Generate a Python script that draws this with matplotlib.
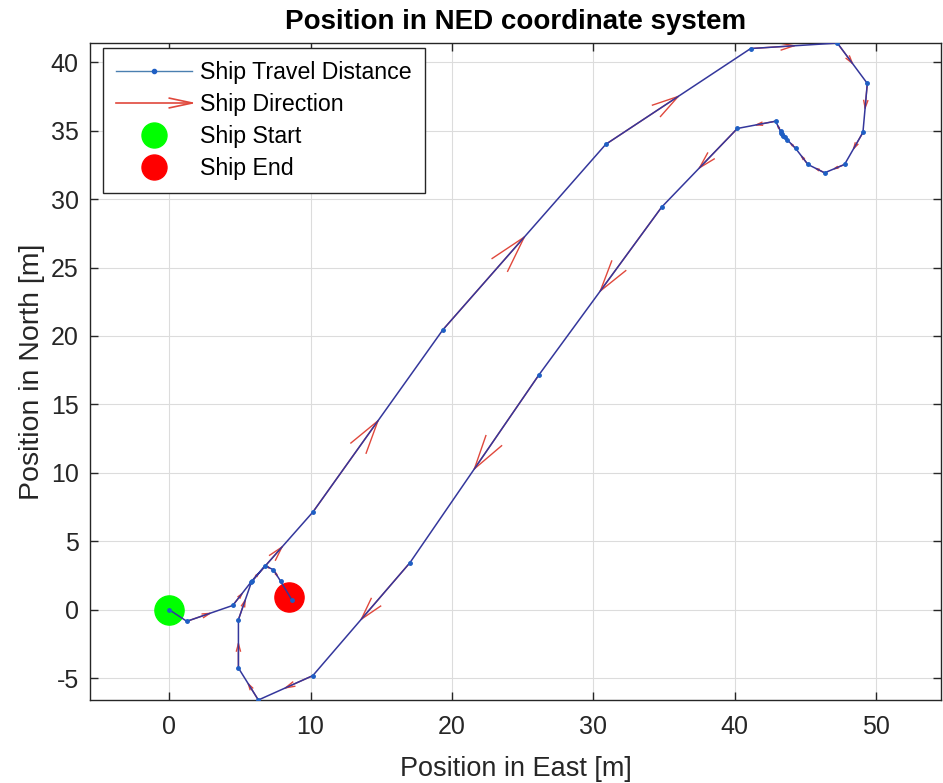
import numpy as np
import matplotlib
matplotlib.use('Agg')
import matplotlib.pyplot as plt
from matplotlib.lines import Line2D
from matplotlib.legend_handler import HandlerBase

plt.rcParams['font.family'] = ['Liberation Sans', 'DejaVu Sans']
plt.rcParams['axes.unicode_minus'] = False

# ship track in NED frame (east, north) [m]
east = [0.0, 1.25, 4.50, 5.77, 10.18, 19.36, 30.88, 41.13, 47.26, 49.38,
        49.07, 47.77, 46.36, 45.18, 44.31, 43.70, 43.55, 43.45, 43.38, 43.30,
        43.25, 42.89, 40.19, 34.84, 26.15, 17.03, 10.16, 6.31, 4.90, 4.90,
        5.84, 6.78, 7.37, 7.89, 8.67]
north = [0.0, -0.85, 0.31, 1.99, 7.15, 20.45, 34.0, 41.0, 41.4, 38.45,
         34.87, 32.53, 31.92, 32.53, 33.70, 34.35, 34.50, 34.62, 34.72, 34.82,
         34.95, 35.69, 35.16, 29.42, 17.15, 3.43, -4.82, -6.6, -4.26, -0.73,
         2.07, 3.21, 2.92, 2.07, 0.73]
start_pos = (0.0, 0.0)
end_pos = (8.5, 0.9)

arrow_scale = 0.5
head_alpha = 0.30
head_beta = 0.27

track_col = '#34379c'
dot_col = '#1f5fc4'
arrow_col = '#e0483c'
text_col = '#262626'


class ArrowHandler(HandlerBase):
    def create_artists(self, legend, orig_handle, xdescent, ydescent,
                       width, height, fontsize, trans):
        y = height / 2 - ydescent
        x0, x1 = -xdescent, -xdescent + width
        hl, hw = width * 0.3, height * 0.3
        shaft = Line2D([x0, x1], [y, y], color=arrow_col, lw=1.2)
        head = Line2D([x1 - hl, x1, x1 - hl], [y + hw, y, y - hw],
                      color=arrow_col, lw=1.2)
        shaft.set_transform(trans)
        head.set_transform(trans)
        return [shaft, head]


fig = plt.figure(figsize=(9.43, 7.83), dpi=100)
ax = fig.add_axes([0.0954, 0.106, 0.9026, 0.839])

e = np.array(east)
n = np.array(north)
u = np.diff(e) * arrow_scale
v = np.diff(n) * arrow_scale
x0, y0 = e[:-1], n[:-1]
tx, ty = x0 + u, y0 + v

# quiver-like arrows (shaft + open head), drawn under the track
nan = np.full_like(u, np.nan)
shaft_x = np.column_stack([x0, tx, nan]).ravel()
shaft_y = np.column_stack([y0, ty, nan]).ravel()
head_x = np.column_stack([tx - head_alpha * (u + head_beta * v), tx,
                          tx - head_alpha * (u - head_beta * v), nan]).ravel()
head_y = np.column_stack([ty - head_alpha * (v - head_beta * u), ty,
                          ty - head_alpha * (v + head_beta * u), nan]).ravel()
ax.plot(shaft_x, shaft_y, color=arrow_col, lw=1.0, zorder=2)
ax.plot(head_x, head_y, color=arrow_col, lw=1.0, zorder=2)

ax.plot(start_pos[0], start_pos[1], 'o', color='#00ff00', ms=21, zorder=2.5)
ax.plot(end_pos[0], end_pos[1], 'o', color='#ff0000', ms=21, zorder=2.5)
ax.plot(east, north, '-', color=track_col, lw=1.1, zorder=3)
ax.plot(east, north, '.', color=dot_col, ms=5, zorder=3.5)

ax.set_xlim(-5.6, 54.6)
ax.set_ylim(-6.6, 41.4)
ax.set_xticks(range(0, 51, 10))
ax.set_yticks(range(-5, 41, 5))
ax.grid(True, color='#dcdcdc', lw=0.8)
ax.set_axisbelow(True)
ax.tick_params(direction='in', top=True, right=True, labelsize=18,
               length=6, width=1, colors=text_col)
ax.tick_params(axis='y', pad=8)
ax.tick_params(axis='x', pad=11)
for s in ax.spines.values():
    s.set_color(text_col)
    s.set_linewidth(1.0)

ax.set_xlabel('Position in East [m]', fontsize=19.5, color=text_col, labelpad=12)
ax.set_ylabel('Position in North [m]', fontsize=20.5, color=text_col, labelpad=4)
ax.set_title('Position in NED coordinate system', fontsize=20,
             fontweight='bold', pad=10)

handles = [
    Line2D([], [], color='#4a7fb0', lw=1.0, marker='.', ms=6,
           markerfacecolor=dot_col, markeredgecolor=dot_col),
    Line2D([], [], color=arrow_col),
    Line2D([], [], ls='', marker='o', color='#00ff00', ms=18),
    Line2D([], [], ls='', marker='o', color='#ff0000', ms=18),
]
labels = ['Ship Travel Distance', 'Ship Direction', 'Ship Start', 'Ship End']
leg = ax.legend(handles, labels, loc='upper left',
                bbox_to_anchor=(0.0153, 0.992), borderaxespad=0,
                fontsize=16.7, handlelength=3.3, handletextpad=0.35,
                labelspacing=0.39, fancybox=False, framealpha=1,
                edgecolor=text_col, borderpad=0.55,
                handler_map={handles[1]: ArrowHandler()})
leg.get_frame().set_linewidth(1.0)

fig.savefig('out.png', dpi=100)
